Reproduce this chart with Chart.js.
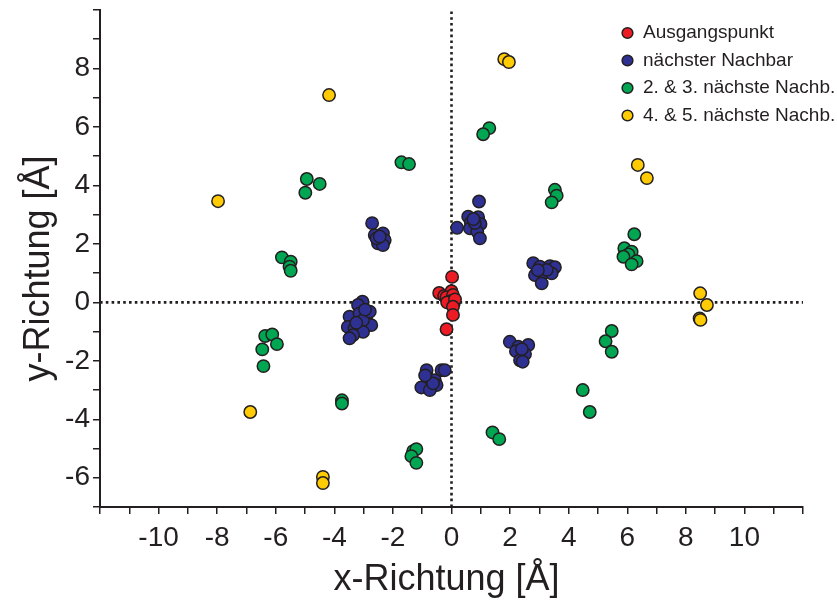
<!DOCTYPE html>
<html>
<head>
<meta charset="utf-8">
<script src="https://cdn.jsdelivr.net/npm/chart.js@4"></script>
<style>
  html, body { margin: 0; padding: 0; background: #fff; }
  #wrap { width: 837px; height: 605px; }
</style>
</head>
<body>
<div id="wrap"><canvas id="chart" width="837" height="605"></canvas></div>
<script>
/* ── Data (Å) ── */
const seriesNames = ['Ausgangspunkt', 'nächster Nachbar', '2. & 3. nächste Nachb.', '4. & 5. nächste Nachb.'];

const ausgangspunkt = [
  [0.02, 0.87], [-0.42, 0.32], [-0.25, 0.22], [0.00, 0.38], [-0.17, 0.18], [0.05, 0.25],
  [0.00, 0.05], [0.08, -0.02], [-0.15, 0.00], [0.12, 0.10], [0.05, -0.15], [0.05, -0.43],
  [-0.17, -0.92]
];

const naechsterNachbar = [
  [0.94, 3.45], [0.19, 2.55], [0.57, 2.93], [0.91, 2.91], [0.66, 2.73], [0.99, 2.68],
  [0.63, 2.53], [0.88, 2.42], [0.97, 2.19], [0.80, 2.71], [0.75, 2.85],
  [2.79, 1.34], [3.02, 1.22], [3.36, 1.24], [3.53, 1.20], [2.85, 0.93], [3.13, 0.99],
  [3.42, 0.99], [3.08, 0.65], [3.25, 1.11], [2.95, 1.10],
  [-2.71, 2.71], [-2.62, 2.30], [-2.34, 2.36], [-2.28, 2.13], [-2.51, 2.02], [-2.34, 1.96],
  [-2.56, 2.19], [-2.45, 2.25],
  [-3.04, 0.02], [-3.19, -0.09], [-3.48, -0.49], [-3.14, -0.38], [-2.91, -0.49], [-2.74, -0.78],
  [-3.02, -0.61], [-3.54, -0.84], [-3.31, -0.89], [-3.02, -1.01], [-3.36, -1.12], [-3.48, -1.23],
  [-2.79, -0.32], [-3.25, -0.70], [-2.95, -0.25],
  [-0.85, -2.32], [-0.34, -2.32], [-0.23, -2.32], [-0.80, -2.60], [-0.57, -2.66], [-0.51, -2.83],
  [-1.03, -2.91], [-0.74, -3.00], [-0.63, -2.77], [-0.90, -2.50],
  [1.99, -1.35], [2.28, -1.52], [2.62, -1.46], [2.20, -1.67], [2.51, -1.77], [2.34, -1.98],
  [2.43, -2.03], [2.40, -1.60]
];

const zweiteDritte = [
  [-1.71, 4.79], [-1.45, 4.73], [-4.94, 4.22], [-4.50, 4.05], [-4.99, 3.75],
  [-5.79, 1.54], [-5.49, 1.39], [-5.53, 1.22], [-5.49, 1.08],
  [1.29, 5.96], [1.08, 5.75], [3.53, 3.85], [3.59, 3.65], [3.42, 3.42],
  [6.24, 2.33], [5.90, 1.85], [6.15, 1.73], [6.04, 1.64], [5.87, 1.56], [6.32, 1.41], [6.15, 1.30],
  [-6.36, -1.15], [-6.12, -1.10], [-5.96, -1.43], [-6.46, -1.61], [-6.42, -2.18],
  [-3.74, -3.35], [-3.74, -3.46],
  [-1.31, -5.09], [-1.20, -5.02], [-1.37, -5.26], [-1.20, -5.49],
  [5.47, -0.98], [5.26, -1.33], [5.47, -1.69], [4.48, -3.00], [4.72, -3.75],
  [1.40, -4.45], [1.63, -4.68]
];

const vierteFuenfte = [
  [-4.18, 7.09], [-7.97, 3.46], [1.80, 8.32], [1.96, 8.22], [6.36, 4.70], [6.67, 4.25],
  [8.49, 0.31], [8.72, -0.09], [8.47, -0.55], [8.50, -0.60],
  [-6.87, -3.75], [-4.39, -5.97], [-4.39, -6.18]
];

/* axis ranges and labelled ticks */
const xRange = [-12, 12];
const yRange = [-7, 10];
const xTickLabels = [-10, -8, -6, -4, -2, 0, 2, 4, 6, 8, 10];
const yTickLabels = [-6, -4, -2, 0, 2, 4, 6, 8];

/* ── Styles ── */
const INK    = '#231f20';
const FONT   = "'Liberation Sans', Arial, sans-serif";
const COLORS = ['#ed1c24', '#2e3192', '#00a651', '#ffcb05'];

const toXY = arr => arr.map(p => ({ x: p[0], y: p[1] }));

function pointSet(label, data, color) {
  return {
    label,
    data: toXY(data),
    backgroundColor: color,
    borderColor: INK,
    borderWidth: 1.5,
    pointRadius: 6.2,
    pointHoverRadius: 6.2,
    order: 0
  };
}

function zeroLine(data) {
  return {
    label: '',
    data,
    showLine: true,
    borderColor: INK,
    borderWidth: 2.6,
    borderDash: [2.6, 3.2],
    pointRadius: 0,
    fill: false,
    order: 1
  };
}

/* put the (chartArea) legend in the top-right corner */
const legendCorner = {
  id: 'legendCorner',
  afterLayout(chart) {
    const lg = chart.legend;
    if (!lg) return;
    lg.left  = chart.chartArea.right - 190;
    lg.right = lg.left + lg.width;
    lg.top   = chart.chartArea.top + 5;
  }
};

const tickLabel = allowed => v => allowed.includes(v) ? String(v) : '';

/* no extra room for half labels at the axis ends */
const noEndPadding = s => { s.paddingTop = 0; s.paddingBottom = 0; s.paddingLeft = 0; s.paddingRight = 0; };

new Chart(document.getElementById('chart'), {
  type: 'scatter',
  data: {
    datasets: [
      pointSet(seriesNames[0], ausgangspunkt,   COLORS[0]),
      pointSet(seriesNames[1], naechsterNachbar, COLORS[1]),
      pointSet(seriesNames[2], zweiteDritte,    COLORS[2]),
      pointSet(seriesNames[3], vierteFuenfte,   COLORS[3]),
      zeroLine([{ x: 0, y: yRange[0] }, { x: 0, y: yRange[1] }]),
      zeroLine([{ x: xRange[0], y: 0 }, { x: xRange[1], y: 0 }])
    ]
  },
  options: {
    responsive: false,
    animation: false,
    layout: { padding: { top: 10, right: 34, left: 0, bottom: 0 } },
    plugins: {
      tooltip: { enabled: false },
      legend: {
        position: 'chartArea',
        align: 'start',
        labels: {
          filter: item => item.text !== '',
          usePointStyle: true,
          pointStyle: 'circle',
          boxWidth: 12,
          boxHeight: 7.6,
          padding: 8.5,
          color: INK,
          font: { family: FONT, size: 19 }
        }
      }
    },
    scales: {
      x: {
        type: 'linear',
        min: xRange[0],
        max: xRange[1],
        afterFit: s => { s.height = 98; noEndPadding(s); },
        ticks: {
          stepSize: 1,
          autoSkip: false,
          maxRotation: 0,
          padding: 7,
          color: INK,
          font: { family: FONT, size: 28 },
          callback: tickLabel(xTickLabels)
        },
        grid: { drawOnChartArea: false, drawTicks: true, tickLength: 7, color: INK, lineWidth: 1.5 },
        border: { color: INK, width: 2 },
        title: {
          display: true,
          text: 'x-Richtung [Å] ',
          color: INK,
          font: { family: FONT, size: 36 },
          padding: { top: 0, bottom: 3 }
        }
      },
      y: {
        type: 'linear',
        min: yRange[0],
        max: yRange[1],
        afterFit: s => { s.width = 100; noEndPadding(s); },
        ticks: {
          stepSize: 1,
          autoSkip: false,
          padding: 3,
          color: INK,
          font: { family: FONT, size: 28 },
          callback: tickLabel(yTickLabels)
        },
        grid: { drawOnChartArea: false, drawTicks: true, tickLength: 7, color: INK, lineWidth: 1.5 },
        border: { color: INK, width: 2 },
        title: {
          display: true,
          text: 'y-Richtung [Å]  ',
          color: INK,
          font: { family: FONT, size: 36 },
          padding: { top: 17, bottom: 0 }
        }
      }
    }
  },
  plugins: [legendCorner]
});
</script>
</body>
</html>
